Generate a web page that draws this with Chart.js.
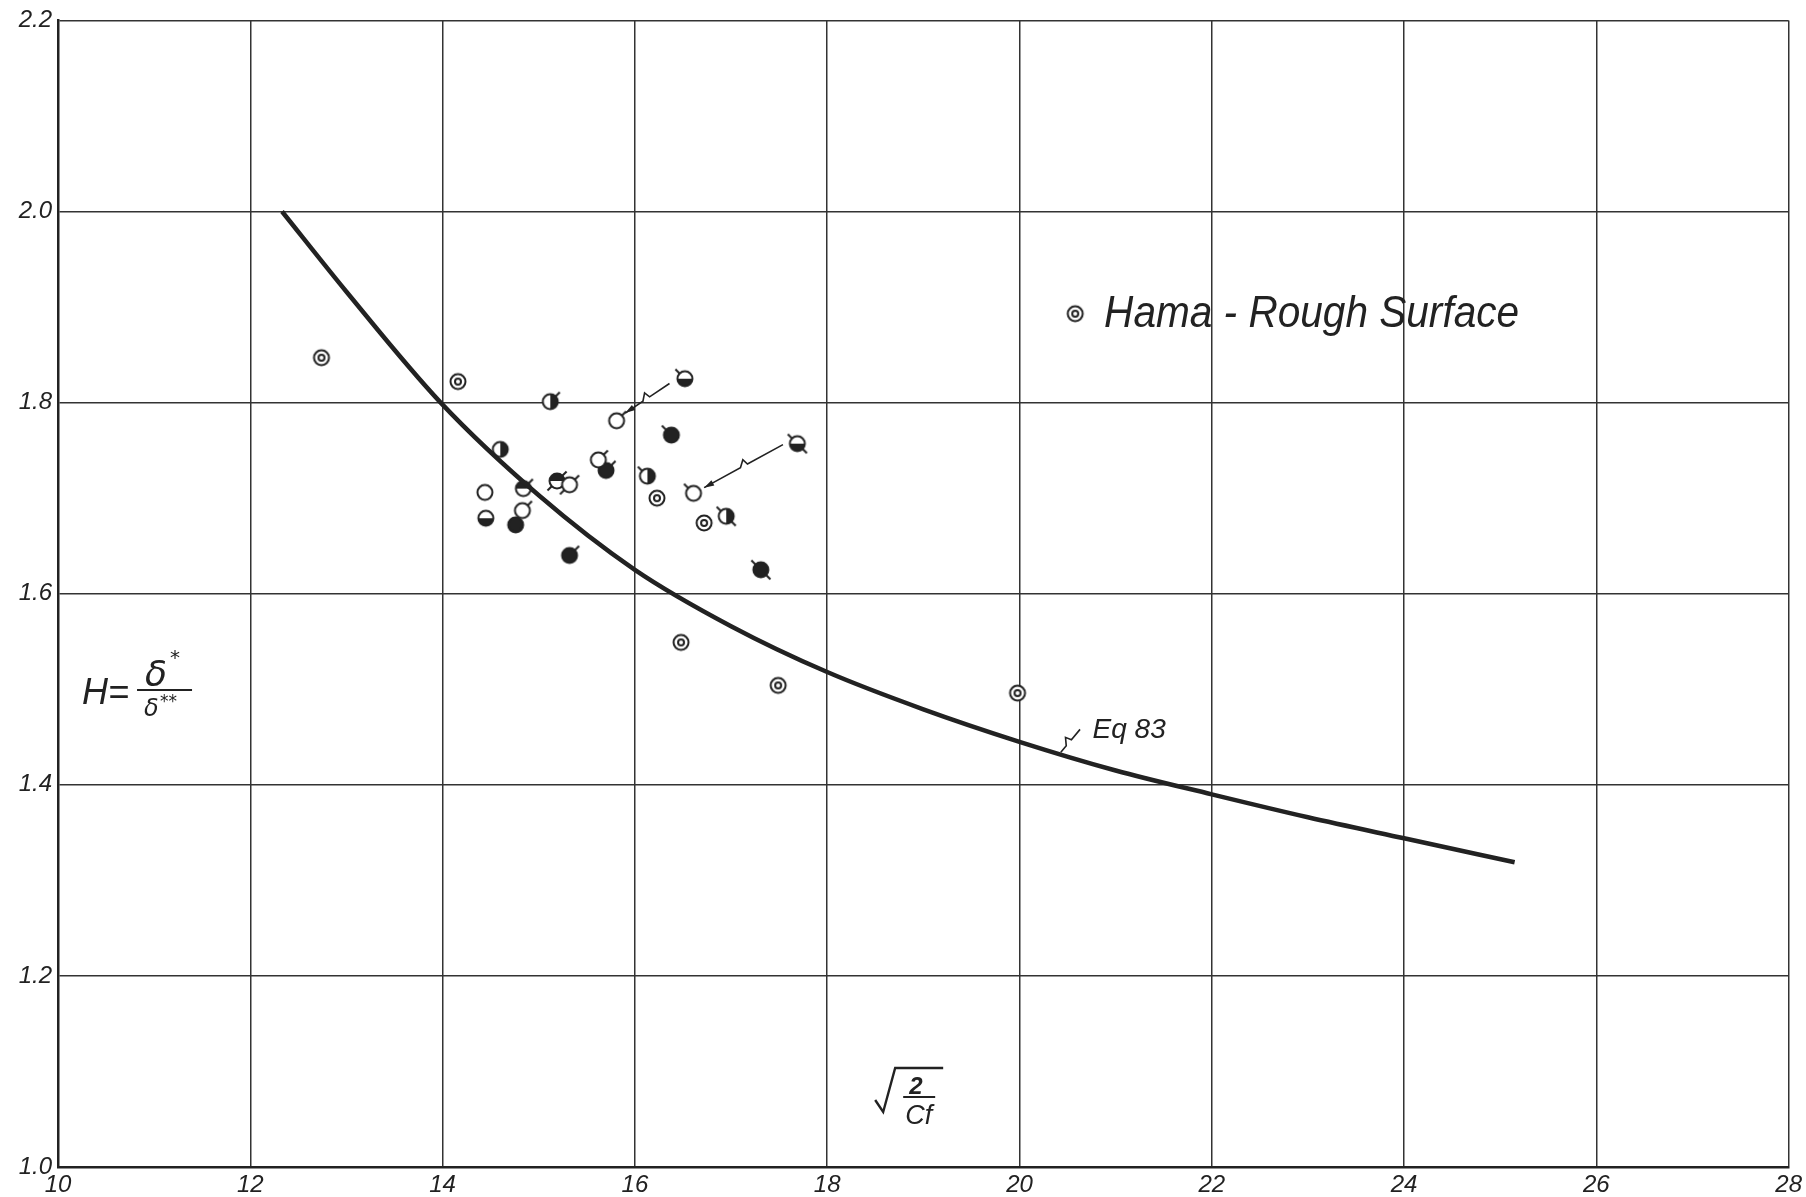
<!DOCTYPE html>
<html>
<head>
<meta charset="utf-8">
<script src="https://cdn.jsdelivr.net/npm/chart.js@4.4.1/dist/chart.umd.min.js"></script>
<style>
  html, body { margin: 0; padding: 0; background: #fff; }
  #wrap { width: 1806px; height: 1197px; position: relative; }
</style>
</head>
<body>
<div id="wrap"><canvas id="hamaChart"></canvas></div>
<script>
// Hama rough surface data, H vs sqrt(2/Cf)
const xTicks = [10, 12, 14, 16, 18, 20, 22, 24, 26, 28];
const yTicks = [1.0, 1.2, 1.4, 1.6, 1.8, 2.0, 2.2];

// Eq. 83 curve
const curveX = [12.33, 13.0, 13.98, 15.0, 16.0, 17.0, 18.0, 19.0, 20.0, 21.0, 22.0, 23.0, 24.0, 25.15];
const curveY = [2.0, 1.916, 1.80, 1.703, 1.625, 1.566, 1.518, 1.479, 1.445, 1.415, 1.390, 1.366, 1.344, 1.319];

// measured points, one pair of arrays per symbol
const bullseyeX = [12.74, 14.16, 16.23, 16.72, 16.48, 17.49, 19.98];
const bullseyeY = [1.847, 1.822, 1.700, 1.674, 1.549, 1.504, 1.496];

const openX = [15.81, 14.44, 14.83, 15.32, 15.62, 16.61];
const openY = [1.781, 1.706, 1.687, 1.714, 1.740, 1.705];
const openFlags = ['ne', '', 'ne', 'nesw', 'ne', 'nw'];

const filledX = [16.38, 15.70, 14.76, 15.32, 17.31];
const filledY = [1.766, 1.729, 1.672, 1.640, 1.625];
const filledFlags = ['nw', 'ne', '', 'ne', 'nwse'];

const halfRightX = [15.12, 14.60, 16.13, 16.95];
const halfRightY = [1.801, 1.751, 1.723, 1.681];
const halfRightFlags = ['ne', '', 'nw', 'nwse'];

const halfBottomX = [16.52, 14.45, 17.69];
const halfBottomY = [1.825, 1.679, 1.757];
const halfBottomFlags = ['nw', '', 'nwse'];

const halfTopX = [15.19, 14.84];
const halfTopY = [1.718, 1.710];
const halfTopFlags = ['nesw', 'ne'];

const ink = '#222';

function makeMarker(kind, flag) {
    const c = document.createElement('canvas');
    c.width = 32; c.height = 32;
    const g = c.getContext('2d');
    const cx = 16, cy = 16, r = 7.5;
    g.lineWidth = 2;
    g.strokeStyle = ink;
    g.fillStyle = '#fff';
    g.beginPath(); g.arc(cx, cy, r, 0, Math.PI * 2); g.fill();
    g.fillStyle = ink;
    if (kind === 'filled') {
        g.beginPath(); g.arc(cx, cy, r, 0, Math.PI * 2); g.fill();
    } else if (kind === 'halfRight') {
        g.beginPath(); g.arc(cx, cy, r, -Math.PI / 2, Math.PI / 2); g.closePath(); g.fill();
    } else if (kind === 'halfBottom') {
        g.beginPath(); g.arc(cx, cy, r, 0, Math.PI); g.closePath(); g.fill();
    } else if (kind === 'halfTop') {
        g.beginPath(); g.arc(cx, cy, r, Math.PI, Math.PI * 2); g.closePath(); g.fill();
    } else if (kind === 'bullseye') {
        g.beginPath(); g.arc(cx, cy, 3, 0, Math.PI * 2); g.stroke();
    }
    g.beginPath(); g.arc(cx, cy, r, 0, Math.PI * 2); g.stroke();
    const dirs = { ne: -Math.PI / 4, nw: -3 * Math.PI / 4, se: Math.PI / 4, sw: 3 * Math.PI / 4 };
    (flag || '').match(/../g)?.forEach(function(d) {
        const a = dirs[d];
        g.beginPath();
        g.moveTo(cx + r * Math.cos(a), cy + r * Math.sin(a));
        g.lineTo(cx + (r + 6) * Math.cos(a), cy + (r + 6) * Math.sin(a));
        g.stroke();
    });
    return c;
}

function points(xs, ys) {
    return xs.map(function(x, i) { return { x: x, y: ys[i] }; });
}

function symbolSet(label, kind, xs, ys, flags) {
    return {
        label: label,
        data: points(xs, ys),
        pointStyle: xs.map(function(_, i) { return makeMarker(kind, flags ? flags[i] : ''); }),
        pointRadius: 8,
        showLine: false
    };
}

const legendMarker = makeMarker('bullseye', '');

function zig(g, x1, y1, x2, y2, arrow) {
    // leader line with a small lightning jog in the middle
    const dx = x2 - x1, dy = y2 - y1;
    const len = Math.hypot(dx, dy);
    const ux = dx / len, uy = dy / len;
    const nx = -uy, ny = ux;
    const mx = x1 + dx * 0.45, my = y1 + dy * 0.45;
    g.beginPath();
    g.moveTo(x1, y1);
    g.lineTo(mx, my);
    g.lineTo(mx + nx * 6 + ux * 2, my + ny * 6 + uy * 2);
    g.lineTo(mx + ux * 8, my + uy * 8);
    g.lineTo(x2, y2);
    g.stroke();
    if (arrow) {
        g.beginPath();
        g.moveTo(x2, y2);
        g.lineTo(x2 - ux * 10 + nx * 3, y2 - uy * 10 + ny * 3);
        g.lineTo(x2 - ux * 10 - nx * 3, y2 - uy * 10 - ny * 3);
        g.closePath();
        g.fill();
    }
}

const notes = {
    id: 'notes',
    afterDatasetsDraw: function(chart) {
        const g = chart.ctx;
        const X = function(v) { return chart.scales.x.getPixelForValue(v); };
        const Y = function(v) { return chart.scales.y.getPixelForValue(v); };
        g.save();
        g.strokeStyle = ink;
        g.fillStyle = ink;
        g.lineWidth = 1.6;

        // leaders
        zig(g, X(16.36), Y(1.820), X(15.90), Y(1.789), true);
        zig(g, X(17.54), Y(1.756), X(16.72), Y(1.711), true);
        zig(g, X(20.63), Y(1.458), X(20.43), Y(1.434), false);

        // legend
        g.drawImage(legendMarker, X(20.58) - 16, Y(1.893) - 16);
        g.font = 'italic 44px "Liberation Sans"';
        g.textBaseline = 'alphabetic';
        g.fillText('Hama - Rough Surface', X(20.88), Y(1.879), 415);

        // Eq 83 label
        g.font = 'italic 28px "Liberation Sans"';
        g.fillText('Eq 83', X(20.76), Y(1.449), 76);

        // y axis title  H = delta* / delta**
        const hx = X(10.25), hy = Y(1.497);
        g.font = 'italic 36px "Liberation Sans"';
        g.fillText('H=', hx, hy + 12, 54);
        g.font = 'italic 36px "DejaVu Sans"';
        g.fillText('\u03B4', hx + 63, hy - 6);
        g.font = 'italic 20px "DejaVu Sans"';
        g.fillText('*', hx + 88, hy - 28);
        g.lineWidth = 2;
        g.beginPath(); g.moveTo(hx + 55, hy - 2); g.lineTo(hx + 110, hy - 2); g.stroke();
        g.font = 'italic 24px "DejaVu Sans"';
        g.fillText('\u03B4', hx + 62, hy + 24);
        g.font = 'italic 17px "DejaVu Sans"';
        g.fillText('**', hx + 78, hy + 15);

        // x axis title  sqrt(2/Cf)
        const rx = X(18.52), ry = Y(1.0) - 99;
        g.lineWidth = 2.4;
        g.beginPath();
        g.moveTo(rx - 2, ry + 32);
        g.lineTo(rx + 6, ry + 44);
        g.lineTo(rx + 18, ry);
        g.lineTo(rx + 66, ry);
        g.stroke();
        g.font = 'italic bold 24px "Liberation Sans"';
        g.fillText('2', rx + 32, ry + 26);
        g.lineWidth = 2.2;
        g.beginPath(); g.moveTo(rx + 26, ry + 29); g.lineTo(rx + 58, ry + 29); g.stroke();
        g.font = 'italic 27px "Liberation Sans"';
        g.fillText('Cf', rx + 28, ry + 56);
        g.restore();
    }
};

const tickFont = { family: '"Liberation Sans"', style: 'italic', size: 24 };

new Chart(document.getElementById('hamaChart'), {
    type: 'scatter',
    data: {
        datasets: [
            {
                label: 'Eq 83',
                data: points(curveX, curveY),
                showLine: true,
                borderColor: ink,
                borderWidth: 4.5,
                pointRadius: 0,
                cubicInterpolationMode: 'monotone'
            },
            symbolSet('Hama', 'bullseye', bullseyeX, bullseyeY, null),
            symbolSet('open', 'open', openX, openY, openFlags),
            symbolSet('filled', 'filled', filledX, filledY, filledFlags),
            symbolSet('half right', 'halfRight', halfRightX, halfRightY, halfRightFlags),
            symbolSet('half bottom', 'halfBottom', halfBottomX, halfBottomY, halfBottomFlags),
            symbolSet('half top', 'halfTop', halfTopX, halfTopY, halfTopFlags)
        ]
    },
    options: {
        responsive: true,
        maintainAspectRatio: false,
        animation: false,
        layout: { padding: { left: 0, top: 15, right: 13, bottom: 0 } },
        plugins: {
            legend: { display: false },
            tooltip: { enabled: false }
        },
        scales: {
            x: {
                type: 'linear',
                min: 10,
                max: 28,
                afterBuildTicks: function(scale) {
                    scale.ticks = xTicks.map(function(v) { return { value: v }; });
                },
                afterFit: function(scale) { scale.height = 30; },
                ticks: {
                    font: tickFont,
                    color: ink,
                    padding: 4,
                    maxRotation: 0,
                    callback: function(v) { return String(v); }
                },
                grid: { color: '#333', lineWidth: 1.5, drawTicks: false },
                border: { color: ink, width: 2.5 }
            },
            y: {
                type: 'linear',
                min: 1.0,
                max: 2.2,
                afterBuildTicks: function(scale) {
                    scale.ticks = yTicks.map(function(v) { return { value: v }; });
                },
                afterFit: function(scale) { scale.width = 58; },
                ticks: {
                    font: tickFont,
                    color: ink,
                    padding: 6,
                    callback: function(v) { return Number(v).toFixed(1); }
                },
                grid: { color: '#333', lineWidth: 1.5, drawTicks: false },
                border: { color: ink, width: 2.5 }
            }
        }
    },
    plugins: [notes]
});
</script>
</body>
</html>
